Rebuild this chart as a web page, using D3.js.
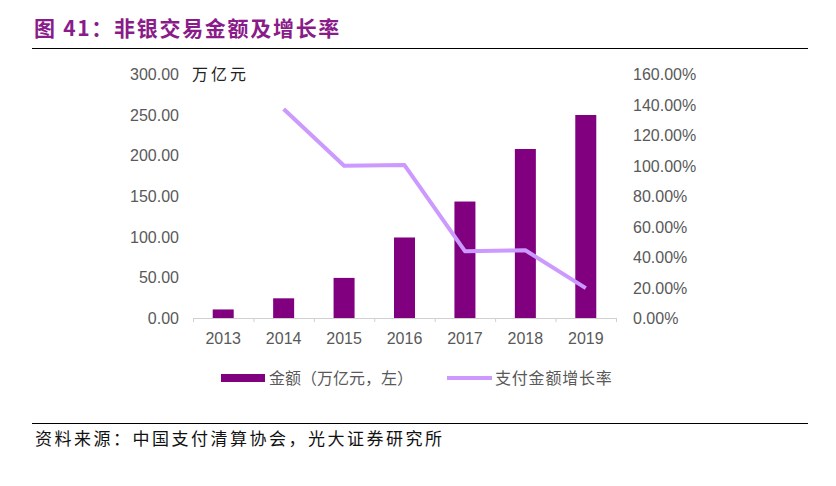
<!DOCTYPE html>
<html><head><meta charset="utf-8">
<script src="https://cdn.jsdelivr.net/npm/d3@7"></script>
<style>body{margin:0;background:#fff;} svg{display:block;}</style>
</head><body>
<svg id="c" width="836" height="486"></svg>
<script>
const years = ["2013","2014","2015","2016","2017","2018","2019"];
const amounts = [10.5, 24.2, 49.3, 99.0, 143.2, 207.8, 249.6];
const growth = [null, 137.0, 99.8, 100.3, 43.8, 44.4, 19.6];
const leftTicks = [0, 50, 100, 150, 200, 250, 300];
const rightTicks = [0, 20, 40, 60, 80, 100, 120, 140, 160];

const svg = d3.select("#c");
const cjk = "'Noto Sans CJK SC', sans-serif";
const num = "'Liberation Sans', Arial, sans-serif";
const grey = "#595959";

// Title
svg.append("text").attr("x", 34).attr("y", 36)
  .attr("font-family", cjk).attr("font-weight", "bold").attr("font-size", 21)
  .attr("letter-spacing", 1.7)
  .attr("fill", "#8a1c8a").text("图 41：非银交易金额及增长率");
svg.append("line").attr("x1", 32).attr("x2", 808).attr("y1", 48.5).attr("y2", 48.5)
  .attr("stroke", "#000").attr("stroke-width", 1.2);

// Scales
const x = d3.scaleBand().domain(years).range([193, 616]).paddingInner(0).paddingOuter(0);
const yL = d3.scaleLinear().domain([0, 300]).range([318, 74]);
const yR = d3.scaleLinear().domain([0, 160]).range([318, 74]);

// Left axis labels
svg.append("g").selectAll("text").data(leftTicks).join("text")
  .attr("x", 179).attr("y", d => yL(d) + 6).attr("text-anchor", "end")
  .attr("font-family", num).attr("font-size", 16).attr("fill", grey)
  .text(d => d3.format(".2f")(d));
svg.append("text").attr("x", 192).attr("y", 80)
  .attr("font-family", cjk).attr("font-size", 16).attr("letter-spacing", 3)
  .attr("fill", "#222").text("万亿元");

// Right axis labels
svg.append("g").selectAll("text").data(rightTicks).join("text")
  .attr("x", 633).attr("y", d => yR(d) + 6).attr("text-anchor", "start")
  .attr("font-family", num).attr("font-size", 16).attr("fill", grey)
  .text(d => d3.format(".2f")(d) + "%");

// Bars
const bw = 21;
svg.append("g").selectAll("rect").data(years).join("rect")
  .attr("x", (d) => x(d) + x.bandwidth() / 2 - bw / 2)
  .attr("width", bw)
  .attr("y", (d, i) => yL(amounts[i]))
  .attr("height", (d, i) => yL(0) - yL(amounts[i]))
  .attr("fill", "#800080");

// X axis
const xa = svg.append("g");
xa.append("line").attr("x1", 193).attr("x2", 616).attr("y1", 318.5).attr("y2", 318.5)
  .attr("stroke", "#d0d0d0").attr("stroke-width", 1.2);
const bounds = years.map(d => x(d)).concat([x.range()[1]]);
xa.selectAll("line.t").data(bounds).join("line").attr("class", "t")
  .attr("x1", d => d + 0.5).attr("x2", d => d + 0.5).attr("y1", 318).attr("y2", 322)
  .attr("stroke", "#d0d0d0").attr("stroke-width", 1);
xa.selectAll("text").data(years).join("text")
  .attr("x", d => x(d) + x.bandwidth() / 2).attr("y", 344).attr("text-anchor", "middle")
  .attr("font-family", num).attr("font-size", 16).attr("fill", grey).text(d => d);

// Line
const pts = years.map((d, i) => ({ y: d, v: growth[i] })).filter(p => p.v !== null);
svg.append("path").datum(pts)
  .attr("d", d3.line().x(p => x(p.y) + x.bandwidth() / 2).y(p => yR(p.v)))
  .attr("fill", "none").attr("stroke", "#cc99ff").attr("stroke-width", 4)
  .attr("stroke-linejoin", "round");

// Legend
const lg = svg.append("g");
lg.append("rect").attr("x", 221).attr("y", 374).attr("width", 44).attr("height", 8).attr("fill", "#800080");
lg.append("text").attr("x", 269).attr("y", 384).attr("font-family", cjk).attr("font-size", 16)
  .attr("fill", grey).text("金额（万亿元，左）");
lg.append("line").attr("x1", 447).attr("x2", 492).attr("y1", 378).attr("y2", 378)
  .attr("stroke", "#cc99ff").attr("stroke-width", 4);
lg.append("text").attr("x", 495).attr("y", 384).attr("font-family", cjk).attr("font-size", 16)
  .attr("letter-spacing", 0.8).attr("fill", grey).text("支付金额增长率");

// Source
svg.append("line").attr("x1", 32).attr("x2", 808).attr("y1", 423.5).attr("y2", 423.5)
  .attr("stroke", "#000").attr("stroke-width", 1);
svg.append("text").attr("x", 35).attr("y", 445).attr("font-family", cjk).attr("font-size", 17)
  .attr("letter-spacing", 2.5)
  .attr("fill", "#111").text("资料来源：中国支付清算协会，光大证券研究所");
</script>
</body></html>
